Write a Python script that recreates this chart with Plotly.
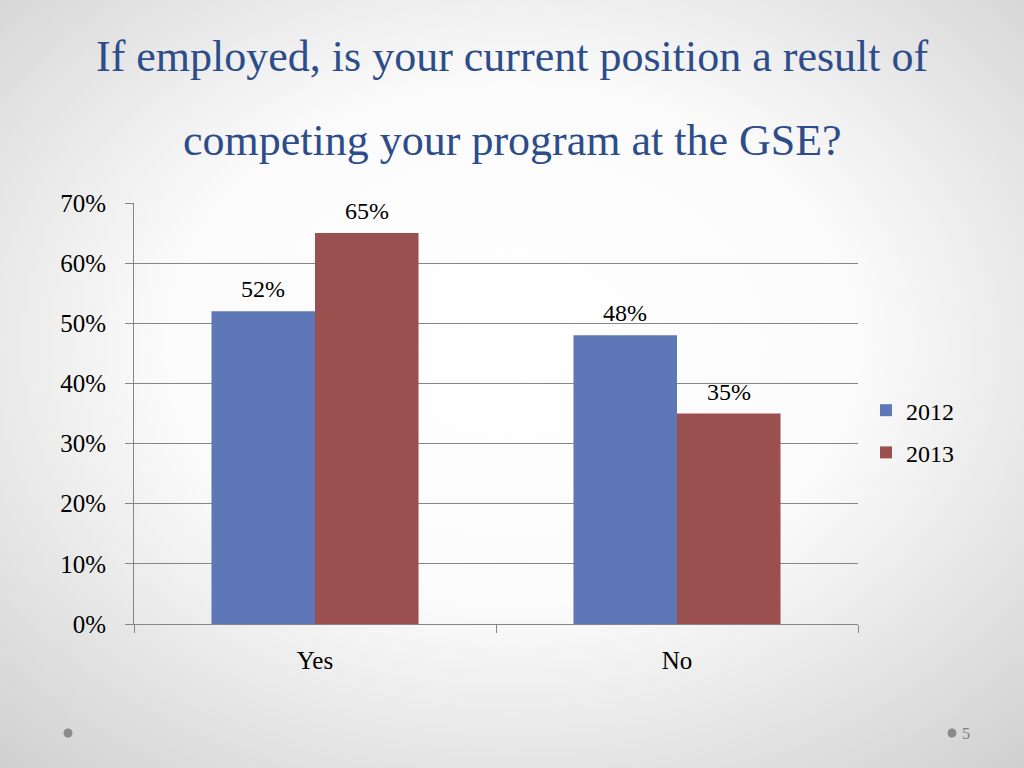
import base64
import plotly.graph_objects as go

categories = ["Yes", "No"]
series_names = ["2012", "2013"]
values_2012 = [0.52, 0.48]
values_2013 = [0.65, 0.35]
colors = ["#5E77B6", "#9B5050"]
y_ticks = [0, 0.1, 0.2, 0.3, 0.4, 0.5, 0.6, 0.7]
title_lines = ["If employed, is your current position a result of",
               "competing your program at the GSE?"]

W, H = 1024, 768
ML, MR, MT, MB = 134, 166, 203, 144
PW, PH = W - ML - MR, H - MT - MB

FONT = "Liberation Serif, DejaVu Serif, serif"

fig = go.Figure()
all_vals = [values_2012, values_2013]
for i, (name, vals, col) in enumerate(zip(series_names, all_vals, colors)):
    fig.add_trace(go.Bar(
        x=categories, y=vals, name=name, marker_color=col,
        marker_line_width=0, legendgroup=name,
    ))
    for cat, v in zip(categories, vals):
        fig.add_annotation(
            x=cat, y=v, text=f"{round(v*100)}%", showarrow=False,
            xanchor="center", yanchor="bottom", xshift=(-52 if i == 0 else 52),
            yshift=7, font=dict(family=FONT, size=24, color="#000000"),
        )

svg = f'''<svg xmlns="http://www.w3.org/2000/svg" width="{W}" height="{H}" viewBox="0 0 {W} {H}" preserveAspectRatio="none">
<defs><radialGradient id="g" cx="50%" cy="45%" r="75%" fx="50%" fy="45%">
<stop offset="0%" stop-color="#ffffff"/><stop offset="45%" stop-color="#fbfbfb"/>
<stop offset="100%" stop-color="#cfcfcf"/></radialGradient></defs>
<rect width="{W}" height="{H}" fill="url(#g)"/>
<circle cx="68" cy="733" r="4.5" fill="#8a8a8a"/>
<circle cx="952" cy="733" r="4.5" fill="#8a8a8a"/>
</svg>'''
uri = "data:image/svg+xml;base64," + base64.b64encode(svg.encode()).decode()

fig.add_layout_image(dict(
    source=uri, xref="paper", yref="paper",
    x=-ML / PW, y=1 + MT / PH, sizex=W / PW, sizey=H / PH,
    xanchor="left", yanchor="top", sizing="stretch", layer="below",
))

fig.update_layout(
    width=W, height=H,
    margin=dict(l=ML, r=MR, t=MT, b=MB, pad=0),
    paper_bgcolor="#f2f2f2", plot_bgcolor="rgba(0,0,0,0)",
    barmode="group", bargap=0.428, bargroupgap=0,
    font=dict(family=FONT, size=22, color="#000000"),
    showlegend=True,
    legend=dict(x=(866 - ML) / PW, y=0.457, xanchor="left", yanchor="middle",
                font=dict(family=FONT, size=24), bgcolor="rgba(0,0,0,0)",
                itemwidth=30, tracegroupgap=8),
    xaxis=dict(
        type="category", tickson="boundaries", ticks="outside", ticklen=8,
        tickcolor="#868686", showline=True, linecolor="#868686", linewidth=1,
        showgrid=False, tickfont=dict(family=FONT, size=25), ticklabelstandoff=14,
        fixedrange=True,
    ),
    yaxis=dict(
        range=[0, 0.7], tickvals=y_ticks, tickformat=".0%",
        ticks="outside", ticklen=8, tickcolor="#868686",
        showline=True, linecolor="#868686", linewidth=1,
        showgrid=True, gridcolor="#868686", gridwidth=1,
        zeroline=False, tickfont=dict(family=FONT, size=25),
        ticklabelstandoff=14, fixedrange=True,
    ),
)

for line, ypx in zip(title_lines, [57, 141]):
    fig.add_annotation(
        text=line, xref="paper", yref="paper",
        x=(512 - ML) / PW, y=1 + (MT - ypx) / PH,
        xanchor="center", yanchor="middle", showarrow=False,
        font=dict(family=FONT, size=44, color="#2C4D8A"),
    )
fig.add_annotation(
    text="5", xref="paper", yref="paper",
    x=(966 - ML) / PW, y=-(733 - (MT + PH)) / PH,
    xanchor="center", yanchor="middle", showarrow=False,
    font=dict(family=FONT, size=16, color="#7f7f7f"),
)

fig.write_html(
    "out.html",
    config={"displayModeBar": False},
    post_script="document.body.style.margin='0';document.body.style.overflow='hidden';",
)
